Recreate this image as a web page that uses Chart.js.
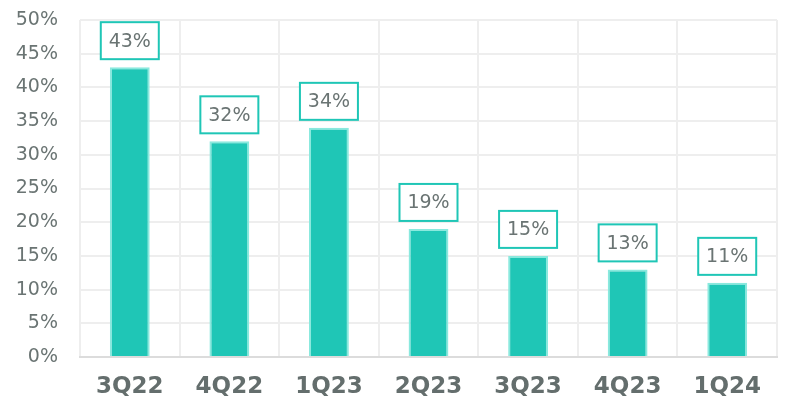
<!DOCTYPE html>
<html>
<head>
<meta charset="utf-8">
<script src="https://cdn.jsdelivr.net/npm/chart.js@4/dist/chart.umd.min.js"></script>
<style>
  html, body { margin: 0; padding: 0; background: #ffffff; }
  #wrap { width: 787px; height: 407px; position: relative; }
</style>
</head>
<body>
<div id="wrap"><canvas id="c" width="787" height="407"></canvas></div>
<script>
// Quarterly share values (percent)
const quarters = ['3Q22', '4Q22', '1Q23', '2Q23', '3Q23', '4Q23', '1Q24'];
const shares = [43, 32, 34, 19, 15, 13, 11];
const yTicks = [0, 5, 10, 15, 20, 25, 30, 35, 40, 45, 50];

const textGray = '#6a7473';
const teal = '#1fc6b6';
const fontFamily = '"DejaVu Sans", sans-serif';

// Boxed value labels above each bar
const boxedLabels = {
  id: 'boxedLabels',
  afterDatasetsDraw(chart) {
    const ctx = chart.ctx;
    const meta = chart.getDatasetMeta(0);
    ctx.save();
    ctx.font = '19px ' + fontFamily;
    ctx.textAlign = 'center';
    ctx.textBaseline = 'middle';
    meta.data.forEach((bar, i) => {
      const txt = shares[i] + '%';
      const w = 58, h = 37;
      const cx = bar.x;
      const bottom = bar.y - 8;
      const top = bottom - h;
      ctx.fillStyle = '#ffffff';
      ctx.fillRect(cx - w / 2, top, w, h);
      ctx.strokeStyle = teal;
      ctx.lineWidth = 2;
      ctx.strokeRect(cx - w / 2, top, w, h);
      ctx.fillStyle = textGray;
      ctx.fillText(txt, cx, top + h / 2 + 1);
    });
    ctx.restore();
  }
};

new Chart(document.getElementById('c'), {
  type: 'bar',
  data: {
    labels: quarters,
    datasets: [{
      data: shares,
      backgroundColor: teal,
      borderColor: '#8ae9de',
      borderWidth: 2,
      borderSkipped: 'bottom',
      barPercentage: 0.4,
      categoryPercentage: 1.0
    }]
  },
  options: {
    responsive: false,
    animation: false,
    devicePixelRatio: 1,
    layout: { padding: { top: 20, right: 10, left: 0, bottom: 0 } },
    plugins: { legend: { display: false }, tooltip: { enabled: false } },
    scales: {
      x: {
        grid: { color: '#eeeeee', lineWidth: 2, offset: true, drawTicks: false },
        border: { color: '#dcdcdc', width: 2 },
        ticks: {
          color: '#646e6d',
          font: { family: fontFamily, size: 23, weight: 'bold' },
          padding: 16
        },
        afterFit(scale) { scale.height = 50; }
      },
      y: {
        min: 0, max: 50,
        afterBuildTicks(scale) { scale.ticks = yTicks.map(v => ({ value: v })); },
        grid: { color: '#eeeeee', lineWidth: 2, drawTicks: false },
        border: { display: false },
        ticks: {
          color: textGray,
          font: { family: fontFamily, size: 19 },
          padding: 22,
          callback: v => v + '%'
        },
        afterFit(scale) {
          scale.width = 80;
          scale.paddingTop = 0;
          scale.paddingBottom = 0;
        }
      }
    }
  },
  plugins: [boxedLabels]
});
</script>
</body>
</html>
